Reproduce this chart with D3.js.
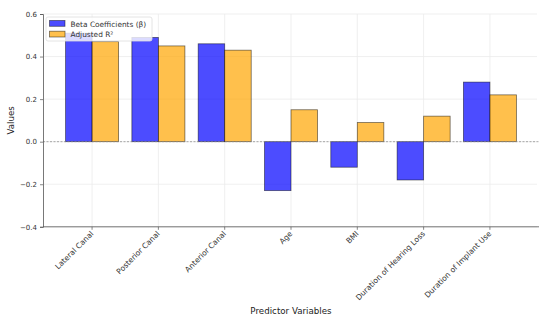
<!DOCTYPE html>
<html>
<head>
<meta charset="utf-8">
<script src="https://cdn.jsdelivr.net/npm/d3@7/dist/d3.min.js"></script>
<style>
  html, body { margin: 0; padding: 0; background: #fff; }
  svg { display: block; font-family: "DejaVu Sans", sans-serif; }
</style>
</head>
<body>
<svg id="chart" width="550" height="322"></svg>
<script>
const categories = ["Lateral Canal", "Posterior Canal", "Anterior Canal", "Age", "BMI", "Duration of Hearing Loss", "Duration of Implant Use"];
const betaValues = [0.51, 0.49, 0.46, -0.23, -0.12, -0.18, 0.28];
const r2Values = [0.47, 0.45, 0.43, 0.15, 0.09, 0.12, 0.22];
const seriesNames = ["Beta Coefficients (β)", "Adjusted R²"];
const yTicks = [-0.4, -0.2, 0.0, 0.2, 0.4, 0.6];

const svg = d3.select("#chart");
const mLeft = 43, mRight = 539, mTop = 14, mBottom = 226.8;

const x = d3.scaleLinear().domain([-0.74, categories.length - 1 + 0.74]).range([mLeft, mRight]);
const y = d3.scaleLinear().domain([-0.4, 0.6]).range([mBottom, mTop]);
const barW = 0.4;

const colors = ["rgba(0,0,255,0.7)", "rgba(255,165,0,0.7)"];
const edge = "rgba(0,0,0,0.55)";

// grid
const g = svg.append("g");
g.selectAll("line.hg").data(yTicks).join("line")
  .attr("x1", mLeft).attr("x2", mRight - 2)
  .attr("y1", d => y(d)).attr("y2", d => y(d))
  .attr("stroke", "#ebebeb").attr("stroke-width", 0.8);
g.selectAll("line.vg").data(categories).join("line")
  .attr("x1", (d, i) => x(i)).attr("x2", (d, i) => x(i))
  .attr("y1", mTop).attr("y2", mBottom)
  .attr("stroke", "#ebebeb").attr("stroke-width", 0.8);

// bars
const series = [betaValues, r2Values];
series.forEach((vals, s) => {
  svg.append("g").selectAll("rect").data(vals).join("rect")
    .attr("x", (d, i) => x(i + (s === 0 ? -barW : 0)))
    .attr("width", x(barW) - x(0))
    .attr("y", d => y(Math.max(0, d)))
    .attr("height", d => Math.abs(y(d) - y(0)))
    .attr("fill", colors[s])
    .attr("stroke", edge).attr("stroke-width", 0.8);
});

// zero line
svg.append("line")
  .attr("x1", mLeft).attr("x2", mRight)
  .attr("y1", y(0)).attr("y2", y(0))
  .attr("stroke", "#888").attr("stroke-width", 0.7)
  .attr("stroke-dasharray", "2,1.5");

// axes
const yAxis = d3.axisLeft(y).tickValues(yTicks).tickSize(3).tickPadding(3)
  .tickFormat(d => d3.format(".1f")(d).replace("-", "−"));
const ya = svg.append("g").attr("transform", `translate(${mLeft},0)`).call(yAxis);
ya.select(".domain").attr("stroke", "#555").attr("stroke-width", 0.8);
ya.selectAll(".tick line").attr("stroke", "#555").attr("stroke-width", 0.7);
ya.selectAll(".tick text").attr("font-size", 7).attr("fill", "#333").attr("font-family", "DejaVu Sans");

const xa = svg.append("g").attr("transform", `translate(0,${mBottom})`);
xa.append("line").attr("x1", mLeft).attr("x2", mRight).attr("y1", 0).attr("y2", 0)
  .attr("stroke", "#555").attr("stroke-width", 0.8);
const xt = xa.selectAll("g.t").data(categories).join("g")
  .attr("transform", (d, i) => `translate(${x(i)},0)`);
xt.append("line").attr("y1", 0).attr("y2", 3).attr("stroke", "#555").attr("stroke-width", 0.7);
xt.append("text")
  .attr("transform", "translate(0,5.5) rotate(-45)")
  .attr("text-anchor", "end")
  .attr("dy", "0.35em")
  .attr("font-size", 7.6).attr("fill", "#333")
  .text(d => d);

// axis labels
svg.append("text").attr("x", (mLeft + mRight) / 2).attr("y", 314)
  .attr("text-anchor", "middle").attr("font-size", 8.7).attr("fill", "#222")
  .text("Predictor Variables");
svg.append("text").attr("transform", `translate(14,${(mTop + mBottom) / 2}) rotate(-90)`)
  .attr("text-anchor", "middle").attr("font-size", 8.7).attr("fill", "#222")
  .text("Values");

// legend
const lg = svg.append("g").attr("transform", "translate(46,17)");
lg.append("rect").attr("width", 106).attr("height", 24).attr("rx", 2)
  .attr("fill", "rgba(255,255,255,0.8)").attr("stroke", "#ddd").attr("stroke-width", 0.8);
seriesNames.forEach((name, i) => {
  lg.append("rect").attr("x", 3.5).attr("y", 3.5 + i * 10.7).attr("width", 15.5).attr("height", 5.8)
    .attr("fill", colors[i]).attr("stroke", edge).attr("stroke-width", 0.8);
  lg.append("text").attr("x", 24.5).attr("y", 9.5 + i * 10.7)
    .attr("font-size", 7.4).attr("fill", "#333").text(name);
});
</script>
</body>
</html>
